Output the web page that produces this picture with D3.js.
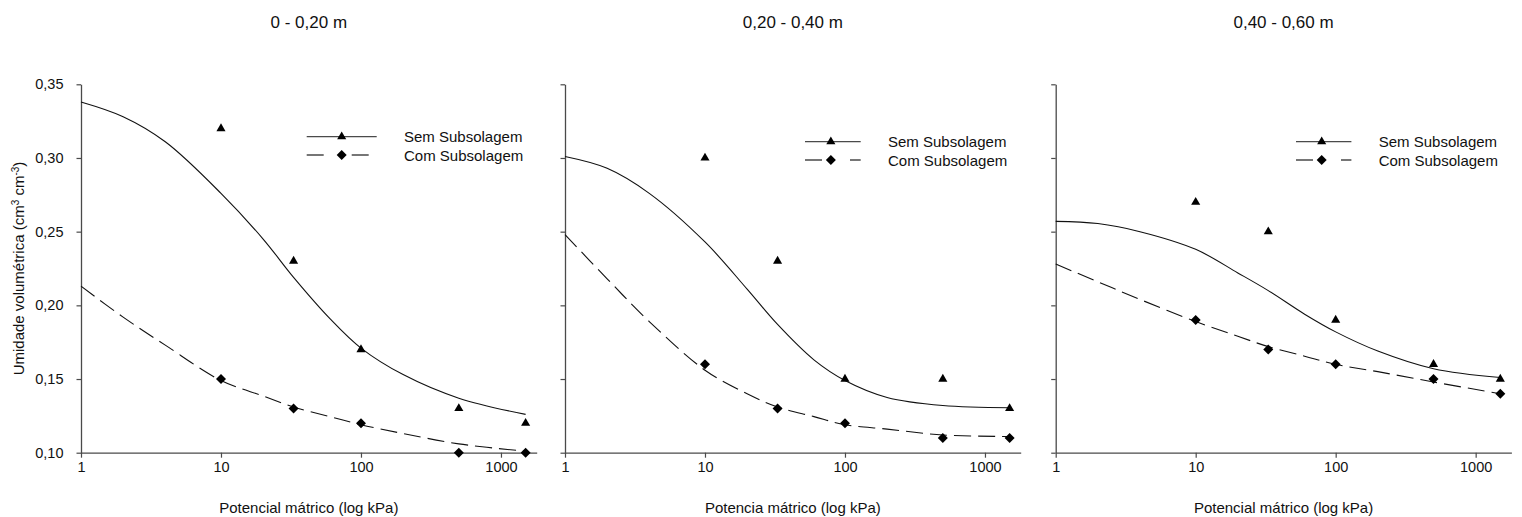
<!DOCTYPE html>
<html>
<head>
<meta charset="utf-8">
<script src="https://cdn.jsdelivr.net/npm/d3@7"></script>
<style>
    body { margin: 0; background: #fff; }
    svg { font-family: "Liberation Sans", Arial, sans-serif; }
</style>
</head>
<body>
<div id="chart"></div>
<script>

// measured points (kPa)
const potencial = [10, 33, 100, 500, 1500];

const sem1 = [0.32, 0.23, 0.17, 0.13, 0.12];
const com1 = [0.15, 0.13, 0.12, 0.10, 0.10];
const sem2 = [0.30, 0.23, 0.15, 0.15, 0.13];
const com2 = [0.16, 0.13, 0.12, 0.11, 0.11];
const sem3 = [0.27, 0.25, 0.19, 0.16, 0.15];
const com3 = [0.19, 0.17, 0.16, 0.15, 0.14];

// fitted curves
const curveX = [1, 2, 4, 10, 20, 33, 60, 100, 200, 500, 1500];

const fitSem1 = [0.338, 0.328, 0.311, 0.276, 0.245, 0.219, 0.191, 0.171, 0.153, 0.137, 0.126];
const fitCom1 = [0.213, 0.192, 0.173, 0.149, 0.1385, 0.131, 0.1245, 0.119, 0.113, 0.106, 0.101];
const fitSem2 = [0.301, 0.293, 0.276, 0.243, 0.211, 0.187, 0.163, 0.149, 0.1375, 0.132, 0.1305];
const fitCom2 = [0.248, 0.218, 0.189, 0.156, 0.140, 0.131, 0.1245, 0.119, 0.116, 0.112, 0.111];
const fitSem3 = [0.257, 0.2555, 0.250, 0.238, 0.222, 0.210, 0.194, 0.182, 0.169, 0.157, 0.151];
const fitCom3 = [0.228, 0.216, 0.204, 0.189, 0.179, 0.172, 0.1655, 0.160, 0.155, 0.148, 0.140];

const titles = ["0 - 0,20 m", "0,20 - 0,40 m", "0,40 - 0,60 m"];
const xTitles = ["Potencial mátrico (log kPa)", "Potencia mátrico (log kPa)", "Potencial mátrico (log kPa)"];
const seriesNames = ["Sem Subsolagem", "Com Subsolagem"];

const xTicks = [1, 10, 100, 1000];
const yTicks = [0.10, 0.15, 0.20, 0.25, 0.30, 0.35];

const panels = [
    { sem: sem1, com: com1, fitSem: fitSem1, fitCom: fitCom1 },
    { sem: sem2, com: com2, fitSem: fitSem2, fitCom: fitCom2 },
    { sem: sem3, com: com3, fitSem: fitSem3, fitCom: fitCom3 }
];

// layout
const W = 1522, H = 517;
const panelLeft = [81, 565, 1055.7];
const legendLine = [225.7, 240, 240.3];
const legendRow = [136.7, 141.7, 141.7];
const plotTop = 84.3, plotBottom = 452.7;
const plotWidth = 455.7;
const axisColor = "#4a4a4a";

const svg = d3.select("#chart")
    .append("svg")
    .attr("width", W)
    .attr("height", H);

const y = d3.scaleLinear()
    .domain([0.10, 0.35])
    .range([plotBottom, plotTop]);

const fmt = d => d3.format(".2f")(d).replace(".", ",");

const triangle = d3.symbol().type(d3.symbolTriangle).size(36);
const diamond = d3.symbol().type(d3.symbolSquare).size(50);

function drawPanel(p, i) {
    const left = panelLeft[i];
    const x = d3.scaleLog()
        .domain([1, 1800])
        .range([left, left + plotWidth]);

    const g = svg.append("g");

    // axes
    const xAxis = g.append("g")
        .attr("transform", `translate(0,${plotBottom})`)
        .call(d3.axisBottom(x).tickValues(xTicks).tickFormat(d3.format("d"))
            .tickSize(5).tickPadding(4).tickSizeOuter(0));

    const yAxis = g.append("g")
        .attr("transform", `translate(${left},0)`)
        .call(d3.axisLeft(y).tickValues(yTicks)
            .tickFormat(i === 0 ? fmt : "")
            .tickSize(4.5).tickPadding(13).tickSizeOuter(0));

    [xAxis, yAxis].forEach(a => {
        a.select(".domain").attr("stroke", axisColor).attr("stroke-width", 1.3);
        a.selectAll(".tick line").attr("stroke", axisColor).attr("stroke-width", 1.2);
        a.selectAll(".tick text")
            .attr("fill", "#111")
            .style("font-size", "14.5px")
            .style("font-family", "'Liberation Sans', Arial, sans-serif");
    });

    // fitted curves
    const line = d3.line()
        .x(d => x(d[0]))
        .y(d => y(d[1]))
        .curve(d3.curveCatmullRom.alpha(0.5));

    g.append("path")
        .datum(curveX.map((v, k) => [v, p.fitSem[k]]))
        .attr("d", line)
        .attr("fill", "none")
        .attr("stroke", "#111")
        .attr("stroke-width", 1.1);

    g.append("path")
        .datum(curveX.map((v, k) => [v, p.fitCom[k]]))
        .attr("d", line)
        .attr("fill", "none")
        .attr("stroke", "#111")
        .attr("stroke-width", 1.1)
        .attr("stroke-dasharray", "17,7");

    // points
    g.selectAll(".sem")
        .data(potencial.map((v, k) => [v, p.sem[k]]))
        .enter().append("path")
        .attr("class", "sem")
        .attr("d", triangle)
        .attr("transform", d => `translate(${x(d[0])},${y(d[1])})`)
        .attr("fill", "#000");

    g.selectAll(".com")
        .data(potencial.map((v, k) => [v, p.com[k]]))
        .enter().append("path")
        .attr("class", "com")
        .attr("d", diamond)
        .attr("transform", d => `translate(${x(d[0])},${y(d[1])}) rotate(45)`)
        .attr("fill", "#000");

    // legend
    const lx = left + legendLine[i];
    const lEnd = left + 295.7;
    const tx = left + 323;
    const r1 = legendRow[i], r2 = legendRow[i] + 18.3;
    const mid = (lx + lEnd) / 2 + (i === 0 ? 0 : -2);

    g.append("line")
        .attr("x1", lx).attr("x2", lEnd)
        .attr("y1", r1).attr("y2", r1)
        .attr("stroke", axisColor).attr("stroke-width", 1.3);
    g.append("path")
        .attr("d", triangle)
        .attr("transform", `translate(${mid},${r1})`);

    g.append("line")
        .attr("x1", lx).attr("x2", lEnd)
        .attr("y1", r2).attr("y2", r2)
        .attr("stroke", axisColor).attr("stroke-width", 1.3)
        .attr("stroke-dasharray", "17,28");
    g.append("path")
        .attr("d", diamond)
        .attr("transform", `translate(${mid},${r2}) rotate(45)`);

    g.selectAll(".leg")
        .data(seriesNames)
        .enter().append("text")
        .attr("x", tx)
        .attr("y", (d, k) => (k === 0 ? r1 : r2) + 5.5)
        .style("font-size", "15px")
        .attr("fill", "#111")
        .text(d => d);

    // titles
    g.append("text")
        .attr("x", left + plotWidth / 2)
        .attr("y", 28)
        .attr("text-anchor", "middle")
        .style("font-size", "17px")
        .attr("fill", "#111")
        .text(titles[i]);

    g.append("text")
        .attr("x", left + plotWidth / 2)
        .attr("y", 513)
        .attr("text-anchor", "middle")
        .style("font-size", "15px")
        .attr("fill", "#111")
        .text(xTitles[i]);
}

panels.forEach(drawPanel);

// y axis title
const yTitle = svg.append("text")
    .attr("transform", "translate(24,268.5) rotate(-90)")
    .attr("text-anchor", "middle")
    .style("font-size", "15px")
    .attr("fill", "#111");
yTitle.append("tspan").text("Umidade volumétrica (cm");
yTitle.append("tspan").attr("baseline-shift", "super").style("font-size", "10px").text("3");
yTitle.append("tspan").text(" cm");
yTitle.append("tspan").attr("baseline-shift", "super").style("font-size", "10px").text("-3");
yTitle.append("tspan").text(")");

</script>
</body>
</html>
